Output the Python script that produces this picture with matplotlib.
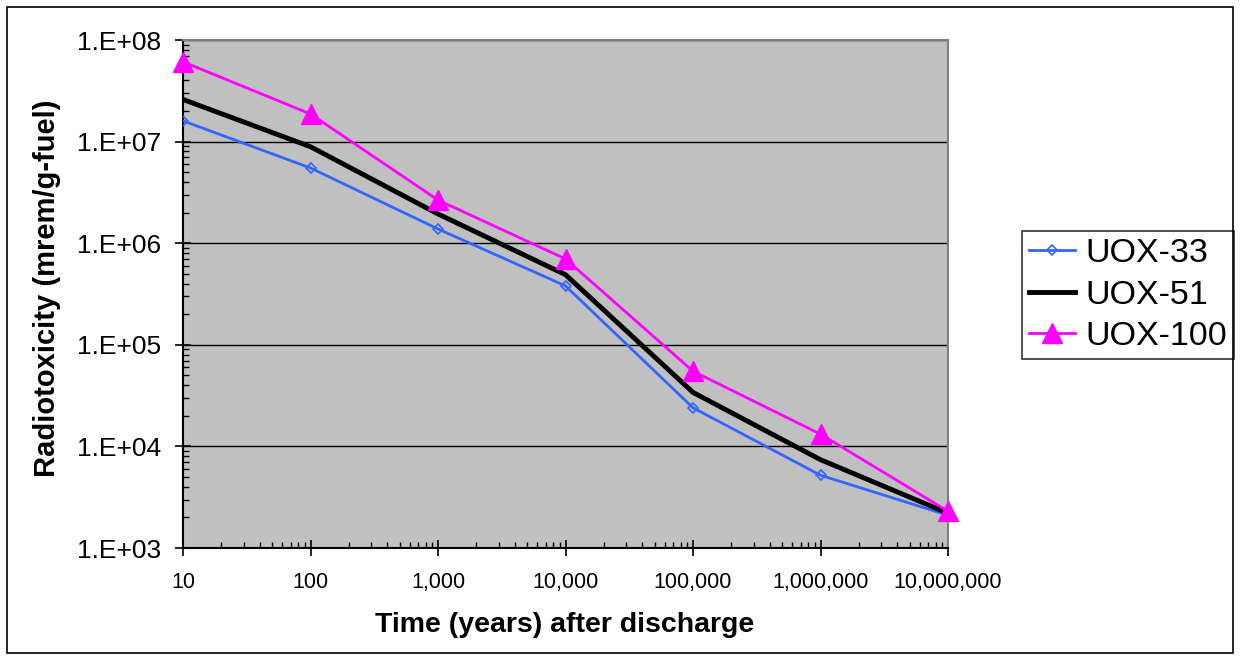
import math
import matplotlib
matplotlib.use("Agg")
import matplotlib.pyplot as plt
import matplotlib.ticker as mticker
from matplotlib.patches import Rectangle

# Time after discharge (years)
years = [10, 100, 1000, 10000, 100000, 1000000, 10000000]

# Radiotoxicity (mrem/g-fuel)
uox_33 = [1.6e7, 5.5e6, 1.38e6, 3.8e5, 2.4e4, 5.2e3, 2.1e3]
uox_51 = [2.6e7, 8.9e6, 1.94e6, 4.9e5, 3.4e4, 7.4e3, 2.2e3]
uox_100 = [6.1e7, 1.87e7, 2.66e6, 7.0e5, 5.5e4, 1.32e4, 2.3e3]

series_names = ["UOX-33", "UOX-51", "UOX-100"]

plt.rcParams["font.family"] = ["Liberation Sans", "DejaVu Sans"]

fig = plt.figure(figsize=(12.4, 6.6), dpi=100)
ax = fig.add_axes([183 / 1240, 1 - 548 / 660, (948 - 183) / 1240, (548 - 40) / 660])
ax.set_facecolor("#C0C0C0")

ax.plot(years, uox_33, color="#3366FF", linewidth=2, marker="D", markersize=5,
        markerfacecolor="none", markeredgecolor="#3366FF", markeredgewidth=1.2,
        label=series_names[0], zorder=3)
ax.plot(years, uox_51, color="black", linewidth=3.5, label=series_names[1], zorder=3)
ax.plot(years, uox_100, color="#FF00FF", linewidth=2, marker="^", markersize=15,
        label=series_names[2], zorder=4, clip_on=False)

ax.set_xscale("log")
ax.set_yscale("log")
ax.set_xlim(10, 1e7)
ax.set_ylim(1e3, 1e8)

ax.xaxis.set_major_locator(mticker.LogLocator(base=10, numticks=10))
ax.xaxis.set_major_formatter(mticker.FuncFormatter(lambda v, p: f"{int(round(v)):,}"))
ax.yaxis.set_major_locator(mticker.LogLocator(base=10, numticks=10))
ax.yaxis.set_major_formatter(
    mticker.FuncFormatter(lambda v, p: "1.E+%02d" % int(round(math.log10(v)))))
ax.xaxis.set_minor_formatter(mticker.NullFormatter())
ax.yaxis.set_minor_formatter(mticker.NullFormatter())

ax.tick_params(axis="both", which="major", direction="inout", length=11, width=1.2, color="black")
ax.tick_params(axis="both", which="minor", direction="in", length=4.5, width=1, color="black")
ax.tick_params(axis="x", which="major", labelsize=15.5, pad=12)
ax.tick_params(axis="y", which="major", labelsize=19, pad=10)

ax.grid(True, which="major", axis="y", color="black", linewidth=1)
ax.set_axisbelow(True)

for side in ["left", "bottom"]:
    ax.spines[side].set_color("black")
    ax.spines[side].set_linewidth(1.5)
for side in ["top", "right"]:
    ax.spines[side].set_color("#808080")
    ax.spines[side].set_linewidth(1.5)

fig.text(565 / 1240, 1 - 625 / 660, "Time (years) after discharge", fontsize=20.5,
         fontweight="bold", ha="center", va="center")
fig.text(47 / 1240, 1 - 288 / 660, "Radiotoxicity (mrem/g-fuel)", fontsize=21,
         fontweight="bold", ha="center", va="center", rotation=90)

leg = ax.legend(loc="center left", bbox_to_anchor=(1022 / 1240, 1 - 295 / 660),
                bbox_transform=fig.transFigure, fontsize=24.5, frameon=True, fancybox=False,
                handlelength=1.35, handletextpad=0.3, borderpad=0.2, labelspacing=0.3,
                borderaxespad=0)
leg.get_frame().set_edgecolor("black")
leg.get_frame().set_linewidth(1.2)

fig.patches.append(Rectangle((7 / 1240, 7 / 660), 1226 / 1240, 646 / 660,
                             transform=fig.transFigure, fill=False,
                             edgecolor="black", linewidth=1.2))

fig.savefig("out.png", dpi=100)
